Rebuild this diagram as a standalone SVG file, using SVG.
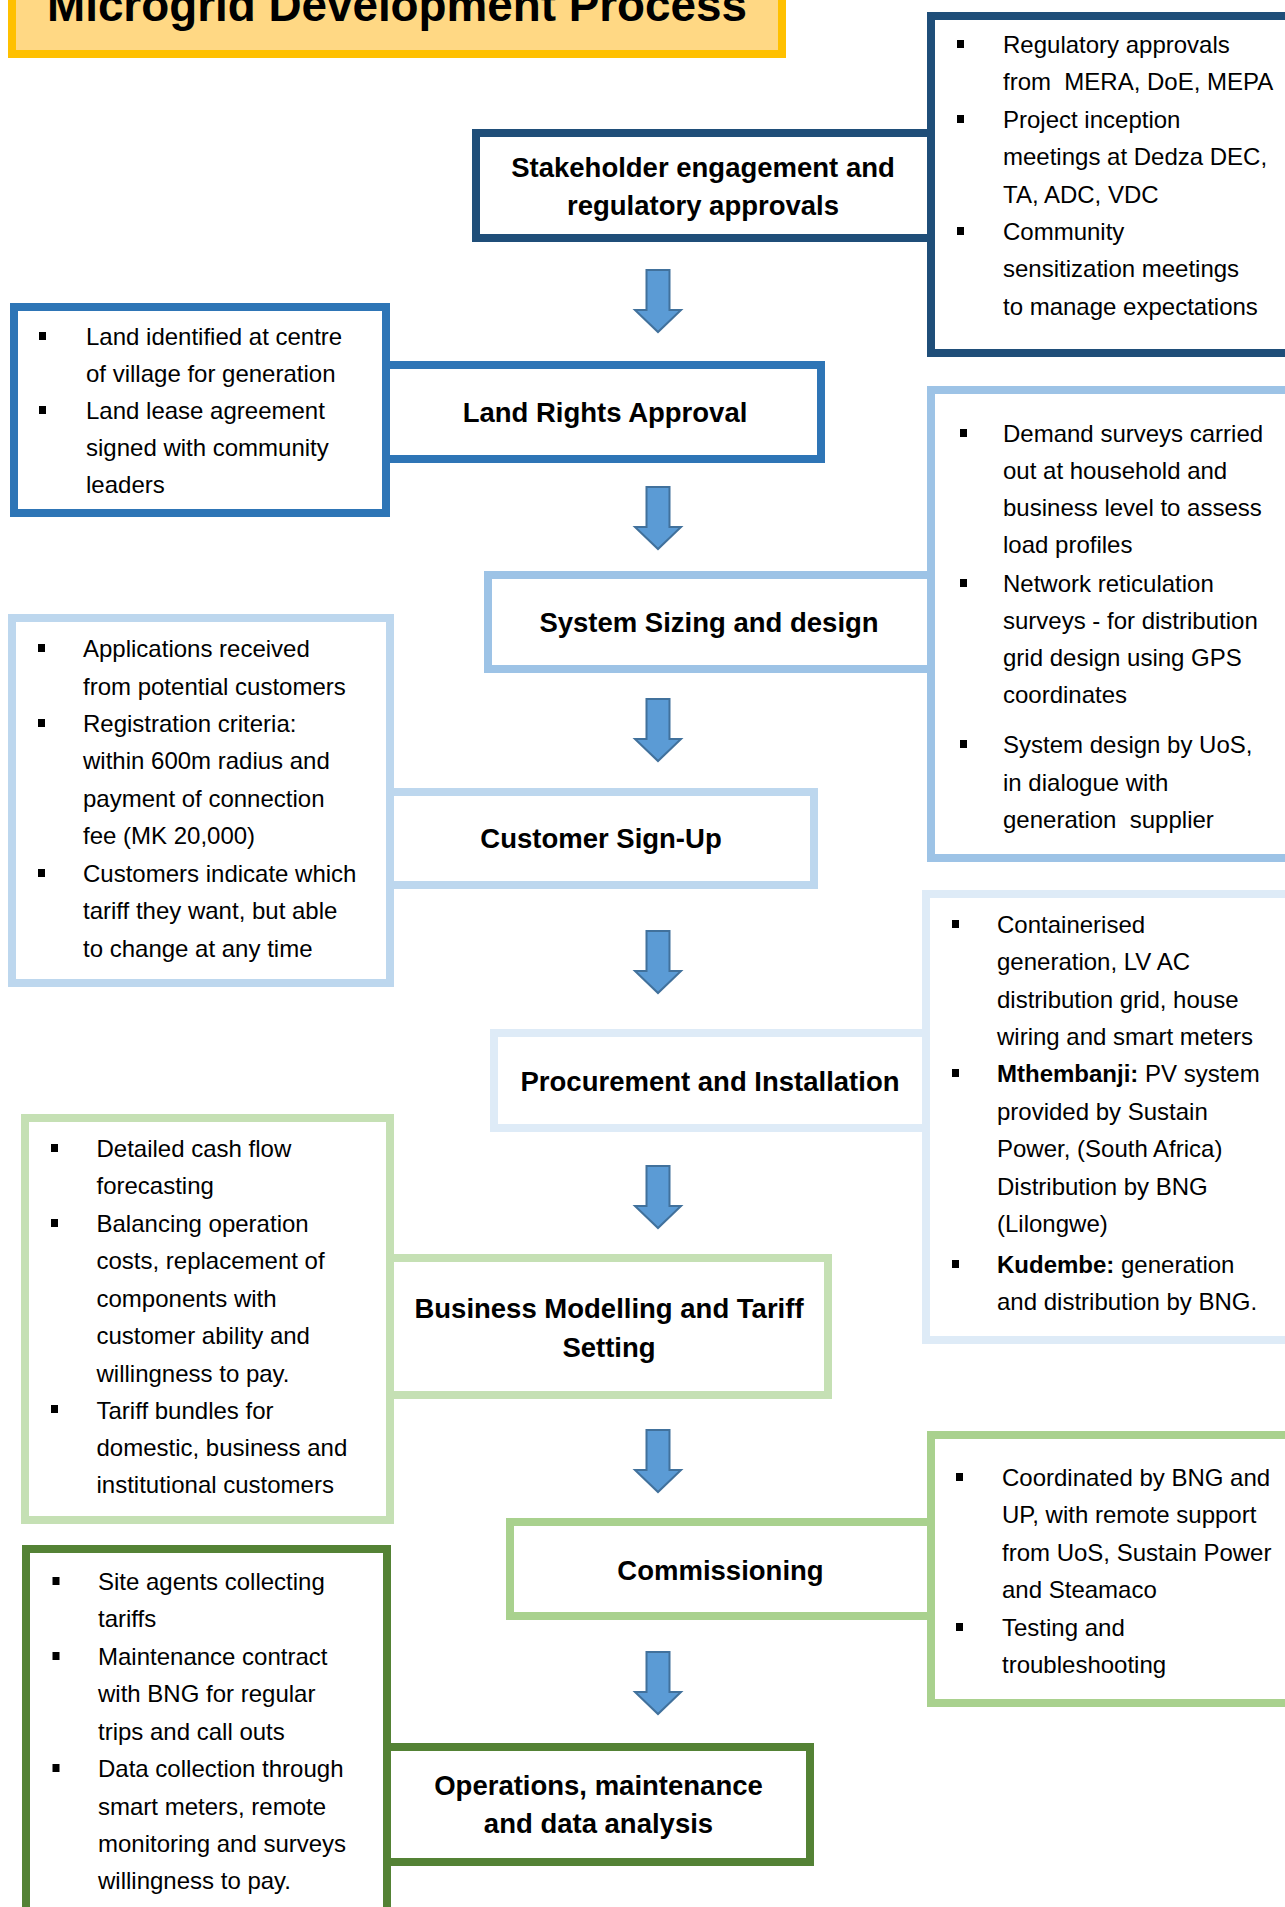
<svg xmlns="http://www.w3.org/2000/svg" xmlns:xlink="http://www.w3.org/1999/xlink" width="1285" height="1907" viewBox="0 0 1285 1907">
<style>
  .box { fill: #ffffff; stroke-width: 8; }
  .head { font-family: "Liberation Sans", Arial, sans-serif; font-weight: bold; font-size: 27.5px; fill: #000; text-anchor: middle; }
  .info { font-family: "Liberation Sans", Arial, sans-serif; font-size: 24px; fill: #000; }
  .b { font-weight: bold; }
  .bul { fill: #000; }
  .c1 { stroke: #1F4E79; }
  .c2 { stroke: #2E75B6; }
  .c3 { stroke: #9DC3E6; }
  .c4 { stroke: #BDD7EE; }
  .c5 { stroke: #DEEBF7; }
  .c6 { stroke: #C5E0B4; }
  .c7 { stroke: #A9D18E; }
  .c8 { stroke: #548235; }
  .arrow { fill: #5B9BD5; stroke: #41719C; stroke-width: 2; stroke-linejoin: miter; }
</style>
<defs>
  <path id="arr" d="M646.5,0 H669.5 V40 H681 L658,62 L635,40 H646.5 Z"/>
</defs>
<rect width="1285" height="1907" fill="#ffffff"/>

<g id="title">
  <rect x="12" y="-20" width="770" height="74" fill="#FFD884" stroke="#FFC000" stroke-width="8"/>
  <text x="397" y="21" font-family="Liberation Sans, Arial, sans-serif" font-weight="bold" font-size="46" text-anchor="middle" textLength="700" lengthAdjust="spacingAndGlyphs">Microgrid Development Process</text>
</g>

<g id="connectors">
  <use xlink:href="#arr" class="arrow" transform="translate(0,270)"/>
  <use xlink:href="#arr" class="arrow" transform="translate(0,487)"/>
  <use xlink:href="#arr" class="arrow" transform="translate(0,699)"/>
  <use xlink:href="#arr" class="arrow" transform="translate(0,931)"/>
  <use xlink:href="#arr" class="arrow" transform="translate(0,1166)"/>
  <use xlink:href="#arr" class="arrow" transform="translate(0,1430)"/>
  <use xlink:href="#arr" class="arrow" transform="translate(0,1652)"/>
</g>

<g id="stakeholder">
  <rect class="box c1" x="476" y="133" width="455" height="105"/>
  <text class="head" x="703" y="177">Stakeholder engagement and</text>
  <text class="head" x="703" y="215">regulatory approvals</text>
</g>
<g id="stakeholder-notes">
  <rect class="box c1" x="931" y="16" width="370" height="337"/>
  <rect class="bul" x="957" y="40" width="7" height="8"/>
  <rect class="bul" x="957" y="115" width="7" height="8"/>
  <rect class="bul" x="957" y="227" width="7" height="8"/>
  <text class="info" x="1003" y="53">Regulatory approvals</text>
  <text class="info" x="1003" y="90" xml:space="preserve">from  MERA, DoE, MEPA</text>
  <text class="info" x="1003" y="128">Project inception</text>
  <text class="info" x="1003" y="165">meetings at Dedza DEC,</text>
  <text class="info" x="1003" y="203">TA, ADC, VDC</text>
  <text class="info" x="1003" y="240">Community</text>
  <text class="info" x="1003" y="277">sensitization meetings</text>
  <text class="info" x="1003" y="315">to manage expectations</text>
</g>

<g id="land-notes">
  <rect class="box c2" x="14" y="307" width="372" height="206"/>
  <rect class="bul" x="39" y="332" width="7" height="8"/>
  <rect class="bul" x="39" y="406" width="7" height="8"/>
  <text class="info" x="86" y="345">Land identified at centre</text>
  <text class="info" x="86" y="382">of village for generation</text>
  <text class="info" x="86" y="419">Land lease agreement</text>
  <text class="info" x="86" y="456">signed with community</text>
  <text class="info" x="86" y="493">leaders</text>
</g>
<g id="land">
  <rect class="box c2" x="386" y="365" width="435" height="94"/>
  <text class="head" x="605" y="422">Land Rights Approval</text>
</g>

<g id="system">
  <rect class="box c3" x="488" y="575" width="443" height="94"/>
  <text class="head" x="709" y="632">System Sizing and design</text>
</g>
<g id="system-notes">
  <rect class="box c3" x="931" y="390" width="370" height="468"/>
  <rect class="bul" x="960" y="429" width="7" height="8"/>
  <rect class="bul" x="960" y="579" width="7" height="8"/>
  <rect class="bul" x="960" y="740" width="7" height="8"/>
  <text class="info" x="1003" y="442">Demand surveys carried</text>
  <text class="info" x="1003" y="479">out at household and</text>
  <text class="info" x="1003" y="516">business level to assess</text>
  <text class="info" x="1003" y="553">load profiles</text>
  <text class="info" x="1003" y="592">Network reticulation</text>
  <text class="info" x="1003" y="629">surveys - for distribution</text>
  <text class="info" x="1003" y="666">grid design using GPS</text>
  <text class="info" x="1003" y="703">coordinates</text>
  <text class="info" x="1003" y="753">System design by UoS,</text>
  <text class="info" x="1003" y="791">in dialogue with</text>
  <text class="info" x="1003" y="828" xml:space="preserve">generation  supplier</text>
</g>

<g id="customer-notes">
  <rect class="box c4" x="12" y="618" width="378" height="365"/>
  <rect class="bul" x="38" y="644" width="7" height="8"/>
  <rect class="bul" x="38" y="719" width="7" height="8"/>
  <rect class="bul" x="38" y="869" width="7" height="8"/>
  <text class="info" x="83" y="657">Applications received</text>
  <text class="info" x="83" y="695">from potential customers</text>
  <text class="info" x="83" y="732">Registration criteria:</text>
  <text class="info" x="83" y="769">within 600m radius and</text>
  <text class="info" x="83" y="807">payment of connection</text>
  <text class="info" x="83" y="844">fee (MK 20,000)</text>
  <text class="info" x="83" y="882">Customers indicate which</text>
  <text class="info" x="83" y="919">tariff they want, but able</text>
  <text class="info" x="83" y="957">to change at any time</text>
</g>
<g id="customer">
  <rect class="box c4" x="390" y="792" width="424" height="93"/>
  <text class="head" x="601" y="848">Customer Sign-Up</text>
</g>

<g id="procurement">
  <rect class="box c5" x="494" y="1033" width="432" height="95"/>
  <text class="head" x="710" y="1091">Procurement and Installation</text>
</g>
<g id="procurement-notes">
  <rect class="box c5" x="926" y="894" width="370" height="446"/>
  <rect class="bul" x="952" y="920" width="7" height="8"/>
  <rect class="bul" x="952" y="1069" width="7" height="8"/>
  <rect class="bul" x="952" y="1260" width="7" height="8"/>
  <text class="info" x="997" y="933">Containerised</text>
  <text class="info" x="997" y="970">generation, LV AC</text>
  <text class="info" x="997" y="1008">distribution grid, house</text>
  <text class="info" x="997" y="1045">wiring and smart meters</text>
  <text class="info" x="997" y="1082"><tspan class="b">Mthembanji:</tspan> PV system</text>
  <text class="info" x="997" y="1120">provided by Sustain</text>
  <text class="info" x="997" y="1157">Power, (South Africa)</text>
  <text class="info" x="997" y="1195">Distribution by BNG</text>
  <text class="info" x="997" y="1232">(Lilongwe)</text>
  <text class="info" x="997" y="1273"><tspan class="b">Kudembe:</tspan> generation</text>
  <text class="info" x="997" y="1310">and distribution by BNG.</text>
</g>

<g id="business-notes">
  <rect class="box c6" x="25" y="1118" width="365" height="402"/>
  <rect class="bul" x="51" y="1144" width="7" height="8"/>
  <rect class="bul" x="51" y="1219" width="7" height="8"/>
  <rect class="bul" x="51" y="1405" width="7" height="8"/>
  <text class="info" x="96.5" y="1157">Detailed cash flow</text>
  <text class="info" x="96.5" y="1194">forecasting</text>
  <text class="info" x="96.5" y="1232">Balancing operation</text>
  <text class="info" x="96.5" y="1269">costs, replacement of</text>
  <text class="info" x="96.5" y="1307">components with</text>
  <text class="info" x="96.5" y="1344">customer ability and</text>
  <text class="info" x="96.5" y="1382">willingness to pay.</text>
  <text class="info" x="96.5" y="1419">Tariff bundles for</text>
  <text class="info" x="96.5" y="1456">domestic, business and</text>
  <text class="info" x="96.5" y="1493">institutional customers</text>
</g>
<g id="business">
  <rect class="box c6" x="390" y="1258" width="438" height="137"/>
  <text class="head" x="609" y="1318">Business Modelling and Tariff</text>
  <text class="head" x="609" y="1357">Setting</text>
</g>

<g id="commissioning">
  <rect class="box c7" x="510" y="1522" width="421" height="94"/>
  <text class="head" x="720.5" y="1580">Commissioning</text>
</g>
<g id="commissioning-notes">
  <rect class="box c7" x="931" y="1435" width="370" height="268"/>
  <rect class="bul" x="956" y="1473" width="7" height="8"/>
  <rect class="bul" x="956" y="1623" width="7" height="8"/>
  <text class="info" x="1002" y="1486">Coordinated by BNG and</text>
  <text class="info" x="1002" y="1523">UP, with remote support</text>
  <text class="info" x="1002" y="1561">from UoS, Sustain Power</text>
  <text class="info" x="1002" y="1598">and Steamaco</text>
  <text class="info" x="1002" y="1636">Testing and</text>
  <text class="info" x="1002" y="1673">troubleshooting</text>
</g>

<g id="operations-notes">
  <rect class="box c8" x="26" y="1549" width="361" height="420"/>
  <rect class="bul" x="52.5" y="1577" width="7" height="8"/>
  <rect class="bul" x="52.5" y="1652" width="7" height="8"/>
  <rect class="bul" x="52.5" y="1764" width="7" height="8"/>
  <text class="info" x="98" y="1590">Site agents collecting</text>
  <text class="info" x="98" y="1627">tariffs</text>
  <text class="info" x="98" y="1665">Maintenance contract</text>
  <text class="info" x="98" y="1702">with BNG for regular</text>
  <text class="info" x="98" y="1740">trips and call outs</text>
  <text class="info" x="98" y="1777">Data collection through</text>
  <text class="info" x="98" y="1815">smart meters, remote</text>
  <text class="info" x="98" y="1852">monitoring and surveys</text>
  <text class="info" x="98" y="1889">willingness to pay.</text>
</g>
<g id="operations">
  <rect class="box c8" x="387" y="1747" width="423" height="115"/>
  <text class="head" x="598.5" y="1795">Operations, maintenance</text>
  <text class="head" x="598.5" y="1833">and data analysis</text>
</g>
</svg>
